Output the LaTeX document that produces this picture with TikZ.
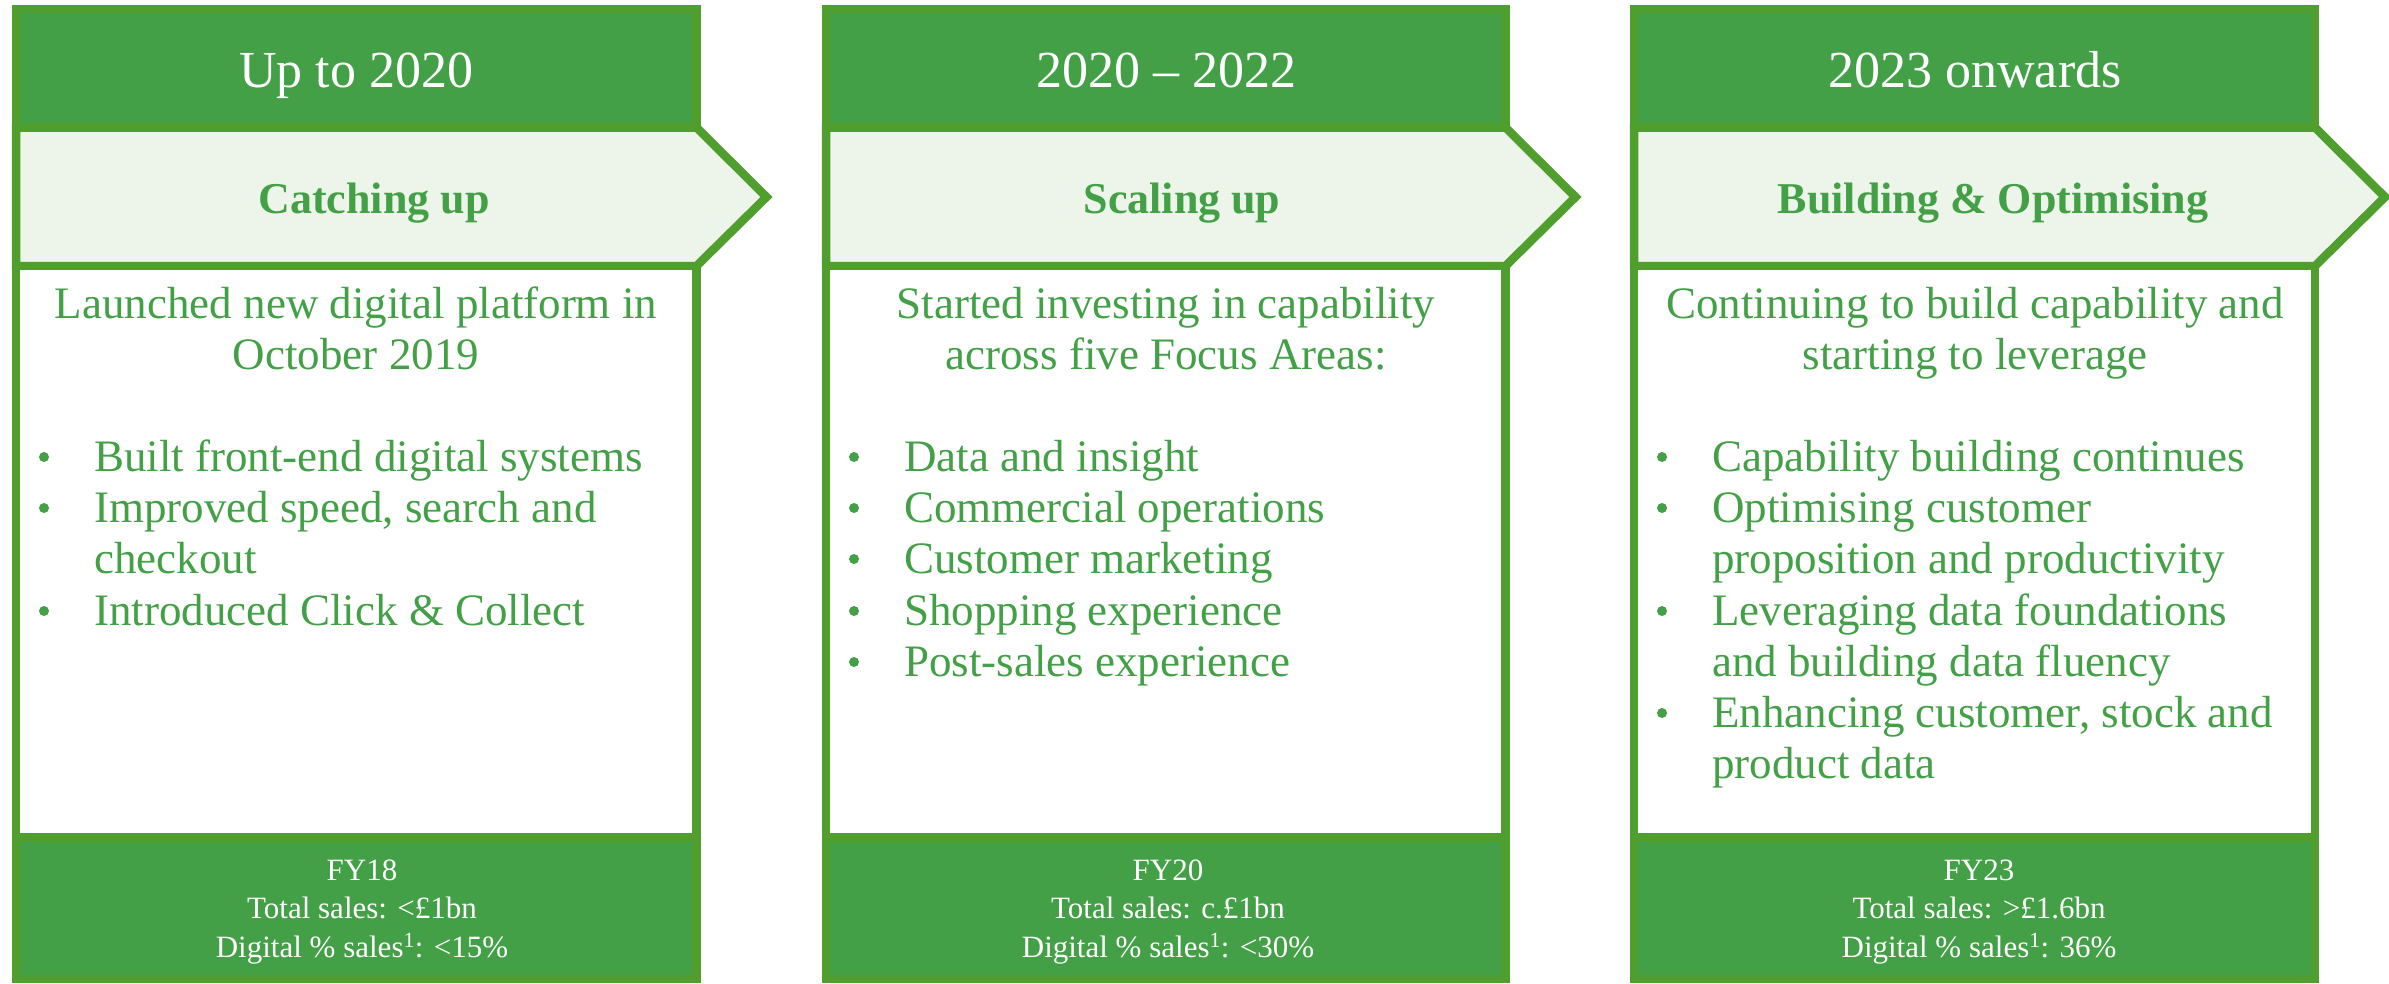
\documentclass[tikz,border=0pt]{standalone}
\usepackage{fontspec}
\setmainfont{Liberation Serif}
\definecolor{edgegreen}{RGB}{80,158,46}
\definecolor{bandgreen}{RGB}{67,160,71}
\definecolor{palegreen}{RGB}{237,244,233}
\definecolor{textgreen}{RGB}{67,160,71}

\begin{document}
\begin{tikzpicture}[x=1pt,y=-1pt,
  frame/.style={draw=edgegreen, line width=8.5pt, line join=miter},
  band/.style={frame, fill=bandgreen},
  chevron/.style={frame, fill=palegreen},
  bodybox/.style={frame, fill=white},
  headtxt/.style={text=white, font=\fontsize{52}{60}\selectfont, anchor=base, inner sep=0pt},
  phasetxt/.style={text=textgreen, font=\bfseries\fontsize{44}{51}\selectfont, anchor=base, inner sep=0pt},
  introtxt/.style={text=textgreen, font=\fontsize{45}{51}\selectfont, anchor=base, inner sep=0pt},
  itemtxt/.style={introtxt, anchor=base west},
  bulletdot/.style={circle, fill=textgreen, minimum size=10pt, inner sep=0pt},
  foottxt/.style={text=white, font=\fontsize{31}{36}\selectfont, anchor=base, inner sep=0pt}]

\useasboundingbox (0,0) rectangle (2389,983);

% three phase columns: header band, chevron, body, footer band
\foreach \L/\R in {16/696.5, 826/1505.5, 1634/2315} {
  \draw[band] (\L,9) rectangle (\R,127.5);
  \draw[chevron] (\L,127.5) -- (\R,127.5) -- (\R+70,197) -- (\R,266) -- (\L,266) -- cycle;
  \draw[bodybox] (\L,266) rectangle (\R,837.5);
  \draw[band] (\L,837.5) rectangle (\R,979);
}

% period headings
\node[headtxt] (head1) at (356,87) {Up to 2020};
\node[headtxt] (head2) at (1166,87) {2020 – 2022};
\node[headtxt] (head3) at (1975,87) {2023 onwards};

% phase names
\node[phasetxt] (phase1) at (374,213) {Catching up};
\node[phasetxt] (phase2) at (1182,213) {Scaling up};
\node[phasetxt] (phase3) at (1993,213) {Building \& Optimising};

% column 1 body
\node[introtxt] (intro1a) at (356,318) {Launched new digital platform in};
\node[introtxt] (intro1b) at (356,369) {October 2019};
\node[bulletdot] (dot1a) at (44,457) {};
\node[itemtxt] (item1a) at (94,471) {Built front-end digital systems};
\node[bulletdot] (dot1b) at (44,508) {};
\node[itemtxt] (item1b) at (94,522) {Improved speed, search and};
\node[itemtxt] (item1c) at (94,573) {checkout};
\node[bulletdot] (dot1d) at (44,611) {};
\node[itemtxt] (item1d) at (94,625) {Introduced Click \& Collect};

% column 2 body
\node[introtxt] (intro2a) at (1166,318) {Started investing in capability};
\node[introtxt] (intro2b) at (1166,369) {across five Focus Areas:};
\node[bulletdot] (dot2a) at (854,457) {};
\node[itemtxt] (item2a) at (904,471) {Data and insight};
\node[bulletdot] (dot2b) at (854,508) {};
\node[itemtxt] (item2b) at (904,522) {Commercial operations};
\node[bulletdot] (dot2c) at (854,559) {};
\node[itemtxt] (item2c) at (904,573) {Customer marketing};
\node[bulletdot] (dot2d) at (854,611) {};
\node[itemtxt] (item2d) at (904,625) {Shopping experience};
\node[bulletdot] (dot2e) at (854,662) {};
\node[itemtxt] (item2e) at (904,676) {Post-sales experience};

% column 3 body
\node[introtxt] (intro3a) at (1975,318) {Continuing to build capability and};
\node[introtxt] (intro3b) at (1975,369) {starting to leverage};
\node[bulletdot] (dot3a) at (1662,457) {};
\node[itemtxt] (item3a) at (1712,471) {Capability building continues};
\node[bulletdot] (dot3b) at (1662,508) {};
\node[itemtxt] (item3b) at (1712,522) {Optimising customer};
\node[itemtxt] (item3c) at (1712,573) {proposition and productivity};
\node[bulletdot] (dot3d) at (1662,611) {};
\node[itemtxt] (item3d) at (1712,625) {Leveraging data foundations};
\node[itemtxt] (item3e) at (1712,676) {and building data fluency};
\node[bulletdot] (dot3f) at (1662,713) {};
\node[itemtxt] (item3f) at (1712,727) {Enhancing customer, stock and};
\node[itemtxt] (item3g) at (1712,778) {product data};

% footers
\node[foottxt] (fy1) at (362,880) {FY18};
\node[foottxt] (sales1) at (362,918) {Total sales: <£1bn};
\node[foottxt] (dig1) at (362,957) {Digital \% sales\textsuperscript{1}: <15\%};
\node[foottxt] (fy2) at (1168,880) {FY20};
\node[foottxt] (sales2) at (1168,918) {Total sales: c.£1bn};
\node[foottxt] (dig2) at (1168,957) {Digital \% sales\textsuperscript{1}: <30\%};
\node[foottxt] (fy3) at (1979,880) {FY23};
\node[foottxt] (sales3) at (1979,918) {Total sales: >£1.6bn};
\node[foottxt] (dig3) at (1979,957) {Digital \% sales\textsuperscript{1}: 36\%};
\end{tikzpicture}
\end{document}
